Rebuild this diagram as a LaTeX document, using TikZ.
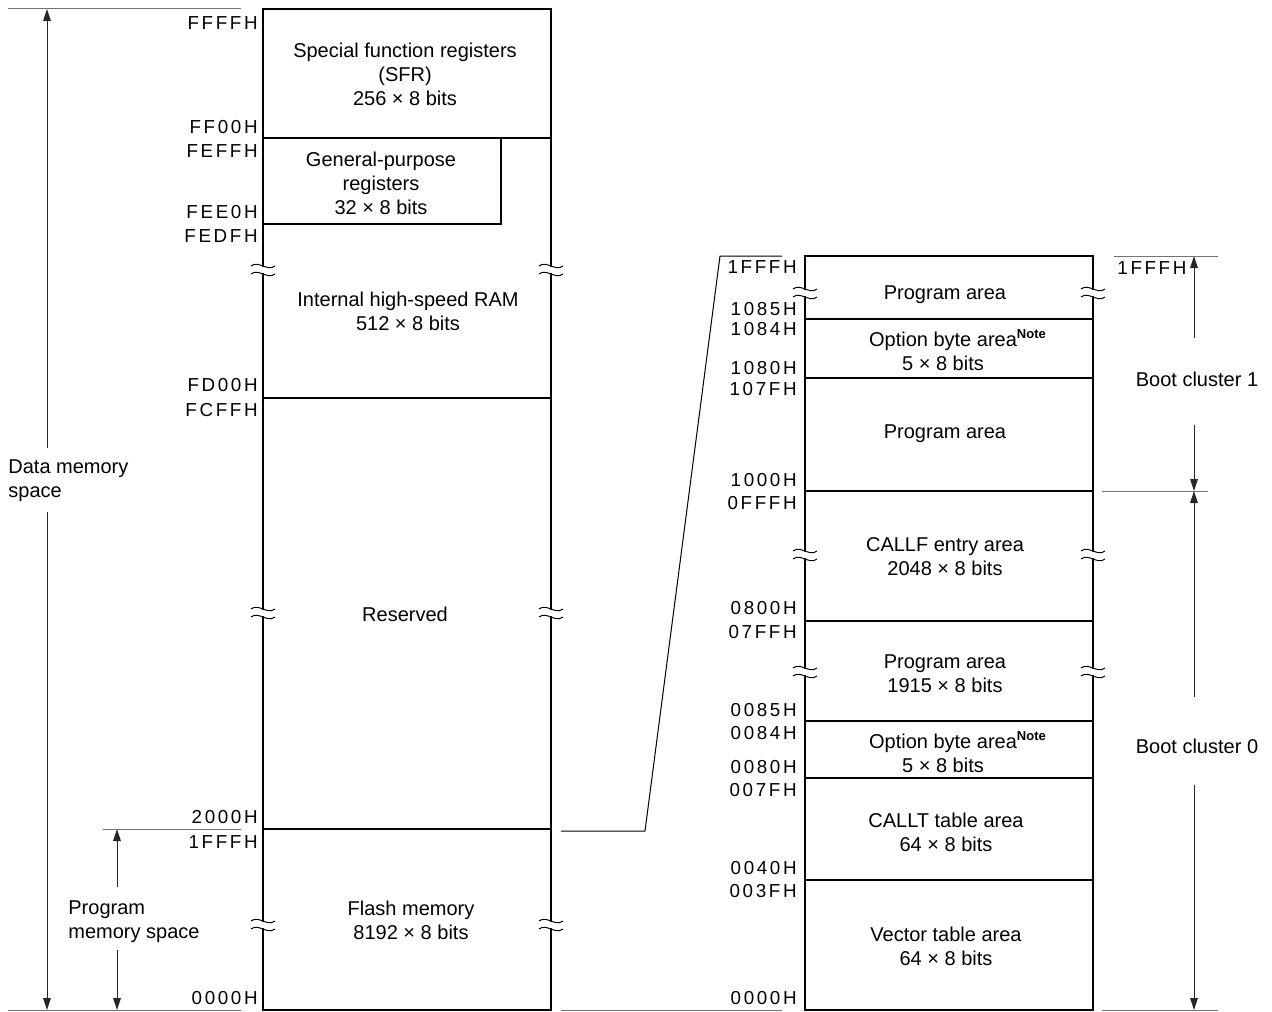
\documentclass[tikz,border=0pt]{standalone}
\usepackage{fontspec}
\setmainfont{Liberation Sans}
\newfontfamily\addrfont[LetterSpace=14]{Liberation Sans}
\usetikzlibrary{arrows.meta,positioning}

% break mark on a vertical edge: x, y
\newcommand\edgebreak[2]{%
  \fill[white] (#1-3,#2-3) rectangle (#1+3,#2+3);
  \draw[line width=0.5pt] (#1-12,#2-4) .. controls (#1-4,#2-10) and (#1+4,#2+2) .. (#1+12,#2-4);
  \draw[line width=0.5pt] (#1-12,#2+4) .. controls (#1-4,#2-2) and (#1+4,#2+10) .. (#1+12,#2+4);
}
\newcommand\notemark{\rlap{\raisebox{0.75ex}{\fontsize{6.5}{7}\selectfont\bfseries Note}}}

\begin{document}
\begin{tikzpicture}[
    x=0.5pt, y=-0.5pt,
    font=\fontsize{10}{12}\selectfont,
    frame/.style={draw, line width=1pt},
    divider/.style={draw, line width=0.6pt},
    extline/.style={draw=black!55, line width=0.5pt},
    zoomline/.style={draw, line width=0.5pt},
    dimarr/.style={-{Triangle[length=6pt,width=3.8pt]}, line width=0.5pt, draw=black!85},
    addr/.style={anchor=east, inner sep=0pt, font=\addrfont\fontsize{9.4}{10}\selectfont},
    txt/.style={align=center, inner sep=0pt},
    side/.style={align=left, anchor=west, inner sep=0pt},
]
\useasboundingbox (0,0) rectangle (1272,1011);

% Data memory map
\draw[frame] (263,9) rectangle (551,1010);
\draw[divider] (263,138) -- (551,138);
\draw[divider] (263,224) -| (501,138);
\draw[divider] (263,398) -- (551,398);
\draw[divider] (263,829) -- (551,829);
\foreach \y in {270,613,925} {\edgebreak{263}{\y} \edgebreak{551}{\y}}

\node[txt] (sfr) at (405,74) {Special function registers\\(SFR)\\256 × 8 bits};
\node[txt] (gpr) at (381,183) {General-purpose\\registers\\32 × 8 bits};
\node[txt] (ram) at (408,311) {Internal high-speed RAM\\512 × 8 bits};
\node[txt] (rsv) at (405,614) {Reserved};
\node[txt] (flash) at (411,920) {Flash memory\\8192 × 8 bits};

\node[addr] (aFFFF) at (258,23) {FFFFH};
\node[addr] (aFF00) at (258,127) {FF00H};
\node[addr] (aFEFF) at (258,151) {FEFFH};
\node[addr] (aFEE0) at (258,212) {FEE0H};
\node[addr] (aFEDF) at (258,236) {FEDFH};
\node[addr] (aFD00) at (258,385) {FD00H};
\node[addr] (aFCFF) at (258,410) {FCFFH};
\node[addr] (a2000) at (258,817) {2000H};
\node[addr] (a1FFF) at (258,842) {1FFFH};
\node[addr] (a0000) at (258,998) {0000H};

% Data / program memory space
\coordinate (dtop) at (47,9);
\coordinate (dbot) at (47,1010);
\coordinate (ptop) at (117,829);
\coordinate (pbot) at (117,1010);
\draw[extline] (8,9) -- (241,9);
\draw[extline] (8,1010) -- (241,1010);
\draw[extline] (103,829) -- (241,829);
\node[side] (dms) at (8,481) {Data memory\\space};
\node[side] (pms) at (68,922) {Program\\memory space};
\draw[dimarr] (dtop |- 0,448) -- (dtop);
\draw[dimarr] (dbot |- 0,512) -- (dbot);
\draw[dimarr] (ptop |- 0,887) -- (ptop);
\draw[dimarr] (pbot |- 0,950) -- (pbot);

% Flash memory map
\draw[frame] (805,256) rectangle (1093,1010);
\foreach \y in {319,378,491,621,721,778,880}
  \draw[divider] (805,\y) -- (1093,\y);
\foreach \y in {293,555,672} {\edgebreak{805}{\y} \edgebreak{1093}{\y}}

\node[txt] (prg1) at (945,295) {Program area};
\node[txt] (opt1) at (943,350) {Option byte area\notemark\\5 × 8 bits};
\node[txt] (prg2) at (945,434) {Program area};
\node[txt] (callf) at (945,557) {CALLF entry area\\2048 × 8 bits};
\node[txt] (prg3) at (945,674) {Program area\\1915 × 8 bits};
\node[txt] (opt0) at (943,752) {Option byte area\notemark\\5 × 8 bits};
\node[txt] (callt) at (946,832) {CALLT table area\\64 × 8 bits};
\node[txt] (vect) at (946,946) {Vector table area\\64 × 8 bits};

\node[addr] (b1FFF) at (797,267) {1FFFH};
\node[addr] (b1085) at (797,309) {1085H};
\node[addr] (b1084) at (797,329) {1084H};
\node[addr] (b1080) at (797,368) {1080H};
\node[addr] (b107F) at (797,389) {107FH};
\node[addr] (b1000) at (797,480) {1000H};
\node[addr] (b0FFF) at (797,503) {0FFFH};
\node[addr] (b0800) at (797,608) {0800H};
\node[addr] (b07FF) at (797,632) {07FFH};
\node[addr] (b0085) at (797,710) {0085H};
\node[addr] (b0084) at (797,733) {0084H};
\node[addr] (b0080) at (797,767) {0080H};
\node[addr] (b007F) at (797,790) {007FH};
\node[addr] (b0040) at (797,868) {0040H};
\node[addr] (b003F) at (797,891) {003FH};
\node[addr] (b0000) at (797,998) {0000H};

% Zoom lines between the maps
\coordinate (zsrc) at (561,831);
\coordinate (zbend) at (645,831);
\coordinate (ztop) at (720,256);
\coordinate (zend) at (782,256);
\draw[zoomline] (zsrc) -- (zbend) -- (ztop) -- (zend);
\draw[extline] (561,1010) -- (782,1010);

% Boot clusters
\coordinate (c1top) at (1194,256);
\coordinate (cmid) at (1194,491);
\coordinate (c0bot) at (1194,1010);
\draw[extline] (1114,256) -- (1218,256);
\draw[extline] (1102,491) -- (1208,491);
\draw[extline] (1102,1010) -- (1218,1010);
\node[anchor=west, inner sep=0pt, font=\addrfont\fontsize{9.4}{10}\selectfont] (c1FFF) at (1117,268) {1FFFH};
\node[txt] (boot1) at (1197,379) {Boot cluster 1};
\node[txt] (boot0) at (1197,746) {Boot cluster 0};
\draw[dimarr] (c1top |- 0,338) -- (c1top);
\draw[dimarr] (cmid |- 0,425) -- (cmid);
\draw[dimarr] (cmid |- 0,697) -- (cmid);
\draw[dimarr] (c0bot |- 0,785) -- (c0bot);
\end{tikzpicture}
\end{document}
